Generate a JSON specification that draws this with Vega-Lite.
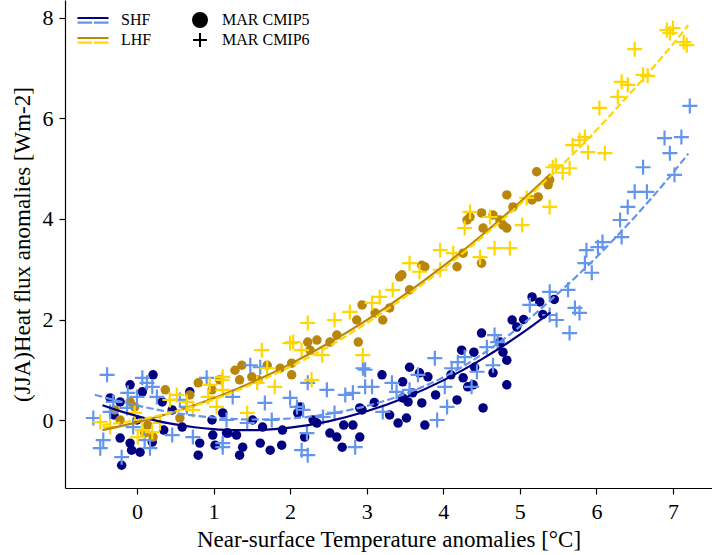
{
  "$schema": "https://vega.github.io/schema/vega-lite/v6.json",
  "width": 647,
  "height": 488,
  "autosize": {"type": "none"},
  "padding": {"left": 65, "top": 0, "right": 0, "bottom": 67},
  "background": "white",
  "config": {
    "view": {"stroke": null},
    "font": "Liberation Serif",
    "axis": {"domainColor": "black", "domainWidth": 1.2, "tickColor": "black", "tickWidth": 1.2, "tickSize": 6, "labelColor": "black", "titleColor": "black", "labelFont": "Liberation Serif", "titleFont": "Liberation Serif", "labelFontSize": 22, "titleFontSize": 23, "titleFontWeight": "normal", "grid": false},
    "legend": {"labelFont": "Liberation Serif", "labelFontSize": 16, "labelColor": "black", "padding": 0}
  },
  "datasets": {
    "pts": [
      {"v":"SHF","m":"MAR CMIP5","t":5.16,"h":2.45},{"v":"SHF","m":"MAR CMIP5","t":5.26,"h":2.35},{"v":"SHF","m":"MAR CMIP5","t":4.90,"h":1.99},{"v":"SHF","m":"MAR CMIP5","t":4.96,"h":1.85},{"v":"SHF","m":"MAR CMIP5","t":4.50,"h":1.73},{"v":"SHF","m":"MAR CMIP5","t":4.74,"h":1.55},{"v":"SHF","m":"MAR CMIP5","t":4.78,"h":1.35},{"v":"SHF","m":"MAR CMIP5","t":4.24,"h":1.39},{"v":"SHF","m":"MAR CMIP5","t":4.83,"h":1.19},{"v":"SHF","m":"MAR CMIP5","t":4.41,"h":1.05},{"v":"SHF","m":"MAR CMIP5","t":4.65,"h":0.94},{"v":"SHF","m":"MAR CMIP5","t":4.83,"h":0.70},{"v":"SHF","m":"MAR CMIP5","t":4.26,"h":0.84},{"v":"SHF","m":"MAR CMIP5","t":4.39,"h":0.70},{"v":"SHF","m":"MAR CMIP5","t":4.32,"h":0.66},{"v":"SHF","m":"MAR CMIP5","t":3.56,"h":1.05},{"v":"SHF","m":"MAR CMIP5","t":3.69,"h":0.94},{"v":"SHF","m":"MAR CMIP5","t":3.80,"h":0.86},{"v":"SHF","m":"MAR CMIP5","t":3.20,"h":0.90},{"v":"SHF","m":"MAR CMIP5","t":3.47,"h":0.76},{"v":"SHF","m":"MAR CMIP5","t":3.60,"h":0.54},{"v":"SHF","m":"MAR CMIP5","t":3.47,"h":0.44},{"v":"SHF","m":"MAR CMIP5","t":3.54,"h":0.36},{"v":"SHF","m":"MAR CMIP5","t":3.72,"h":0.34},{"v":"SHF","m":"MAR CMIP5","t":4.18,"h":0.40},{"v":"SHF","m":"MAR CMIP5","t":4.52,"h":0.24},{"v":"SHF","m":"MAR CMIP5","t":2.94,"h":0.20},{"v":"SHF","m":"MAR CMIP5","t":3.52,"h":0.04},{"v":"SHF","m":"MAR CMIP5","t":3.41,"h":-0.06},{"v":"SHF","m":"MAR CMIP5","t":3.76,"h":-0.10},{"v":"SHF","m":"MAR CMIP5","t":2.13,"h":0.26},{"v":"SHF","m":"MAR CMIP5","t":2.10,"h":0.14},{"v":"SHF","m":"MAR CMIP5","t":2.91,"h":0.24},{"v":"SHF","m":"MAR CMIP5","t":2.82,"h":-0.10},{"v":"SHF","m":"MAR CMIP5","t":2.52,"h":-0.26},{"v":"SHF","m":"MAR CMIP5","t":2.61,"h":-0.34},{"v":"SHF","m":"MAR CMIP5","t":2.35,"h":-0.06},{"v":"SHF","m":"MAR CMIP5","t":2.19,"h":-0.34},{"v":"SHF","m":"MAR CMIP5","t":1.89,"h":-0.50},{"v":"SHF","m":"MAR CMIP5","t":1.74,"h":-0.60},{"v":"SHF","m":"MAR CMIP5","t":1.61,"h":-0.46},{"v":"SHF","m":"MAR CMIP5","t":1.38,"h":-0.54},{"v":"SHF","m":"MAR CMIP5","t":1.34,"h":-0.70},{"v":"SHF","m":"MAR CMIP5","t":1.64,"h":-0.14},{"v":"SHF","m":"MAR CMIP5","t":1.17,"h":-0.26},{"v":"SHF","m":"MAR CMIP5","t":2.68,"h":-0.54},{"v":"SHF","m":"MAR CMIP5","t":2.91,"h":-0.34},{"v":"SHF","m":"MAR CMIP5","t":1.51,"h":0.00},{"v":"SHF","m":"MAR CMIP5","t":0.21,"h":0.90},{"v":"SHF","m":"MAR CMIP5","t":-0.09,"h":0.70},{"v":"SHF","m":"MAR CMIP5","t":0.07,"h":0.56},{"v":"SHF","m":"MAR CMIP5","t":-0.35,"h":0.44},{"v":"SHF","m":"MAR CMIP5","t":-0.22,"h":0.36},{"v":"SHF","m":"MAR CMIP5","t":0.33,"h":0.36},{"v":"SHF","m":"MAR CMIP5","t":-0.22,"h":-0.36},{"v":"SHF","m":"MAR CMIP5","t":-0.09,"h":-0.46},{"v":"SHF","m":"MAR CMIP5","t":0.20,"h":-0.44},{"v":"SHF","m":"MAR CMIP5","t":0.04,"h":-0.64},{"v":"SHF","m":"MAR CMIP5","t":-0.07,"h":-0.60},{"v":"SHF","m":"MAR CMIP5","t":-0.20,"h":-0.90},{"v":"SHF","m":"MAR CMIP5","t":0.82,"h":-0.46},{"v":"SHF","m":"MAR CMIP5","t":0.80,"h":-0.70},{"v":"SHF","m":"MAR CMIP5","t":1.02,"h":-0.50},{"v":"SHF","m":"MAR CMIP5","t":0.99,"h":-0.30},{"v":"SHF","m":"MAR CMIP5","t":0.59,"h":-0.14},{"v":"SHF","m":"MAR CMIP5","t":0.69,"h":0.56},{"v":"SHF","m":"MAR CMIP5","t":0.46,"h":0.20},{"v":"SHF","m":"MAR CMIP5","t":0.98,"h":0.00},{"v":"SHF","m":"MAR CMIP5","t":1.12,"h":0.14},{"v":"SHF","m":"MAR CMIP5","t":1.19,"h":-0.26},{"v":"SHF","m":"MAR CMIP5","t":-0.30,"h":0.10},{"v":"SHF","m":"MAR CMIP5","t":0.00,"h":0.00},{"v":"SHF","m":"MAR CMIP5","t":0.35,"h":-0.20},{"v":"SHF","m":"MAR CMIP5","t":1.30,"h":-0.30},{"v":"SHF","m":"MAR CMIP5","t":1.90,"h":-0.20},{"v":"SHF","m":"MAR CMIP5","t":2.30,"h":0.00},{"v":"SHF","m":"MAR CMIP5","t":2.70,"h":-0.10},{"v":"SHF","m":"MAR CMIP5","t":3.10,"h":0.35},{"v":"SHF","m":"MAR CMIP5","t":3.30,"h":0.10},{"v":"SHF","m":"MAR CMIP5","t":3.90,"h":0.50},{"v":"SHF","m":"MAR CMIP5","t":4.10,"h":0.90},{"v":"SHF","m":"MAR CMIP5","t":4.40,"h":1.35},{"v":"SHF","m":"MAR CMIP5","t":5.05,"h":2.00},{"v":"SHF","m":"MAR CMIP5","t":5.30,"h":2.10},{"v":"SHF","m":"MAR CMIP5","t":5.45,"h":2.40},
      {"v":"LHF","m":"MAR CMIP5","t":5.22,"h":4.94},{"v":"LHF","m":"MAR CMIP5","t":5.37,"h":4.68},{"v":"LHF","m":"MAR CMIP5","t":5.24,"h":4.44},{"v":"LHF","m":"MAR CMIP5","t":5.16,"h":4.38},{"v":"LHF","m":"MAR CMIP5","t":4.83,"h":4.48},{"v":"LHF","m":"MAR CMIP5","t":4.91,"h":4.24},{"v":"LHF","m":"MAR CMIP5","t":4.50,"h":4.12},{"v":"LHF","m":"MAR CMIP5","t":4.35,"h":4.04},{"v":"LHF","m":"MAR CMIP5","t":4.31,"h":3.98},{"v":"LHF","m":"MAR CMIP5","t":4.65,"h":4.08},{"v":"LHF","m":"MAR CMIP5","t":4.52,"h":3.82},{"v":"LHF","m":"MAR CMIP5","t":4.78,"h":3.88},{"v":"LHF","m":"MAR CMIP5","t":4.83,"h":3.82},{"v":"LHF","m":"MAR CMIP5","t":4.74,"h":3.98},{"v":"LHF","m":"MAR CMIP5","t":4.26,"h":3.32},{"v":"LHF","m":"MAR CMIP5","t":4.50,"h":3.12},{"v":"LHF","m":"MAR CMIP5","t":4.18,"h":3.05},{"v":"LHF","m":"MAR CMIP5","t":3.76,"h":3.05},{"v":"LHF","m":"MAR CMIP5","t":3.72,"h":3.08},{"v":"LHF","m":"MAR CMIP5","t":3.46,"h":2.89},{"v":"LHF","m":"MAR CMIP5","t":2.94,"h":2.29},{"v":"LHF","m":"MAR CMIP5","t":3.43,"h":2.85},{"v":"LHF","m":"MAR CMIP5","t":3.21,"h":1.99},{"v":"LHF","m":"MAR CMIP5","t":2.87,"h":1.99},{"v":"LHF","m":"MAR CMIP5","t":2.89,"h":1.55},{"v":"LHF","m":"MAR CMIP5","t":2.61,"h":1.69},{"v":"LHF","m":"MAR CMIP5","t":2.52,"h":1.55},{"v":"LHF","m":"MAR CMIP5","t":2.35,"h":1.59},{"v":"LHF","m":"MAR CMIP5","t":2.23,"h":1.55},{"v":"LHF","m":"MAR CMIP5","t":2.26,"h":1.39},{"v":"LHF","m":"MAR CMIP5","t":2.02,"h":1.13},{"v":"LHF","m":"MAR CMIP5","t":1.87,"h":1.03},{"v":"LHF","m":"MAR CMIP5","t":1.70,"h":1.09},{"v":"LHF","m":"MAR CMIP5","t":1.37,"h":1.09},{"v":"LHF","m":"MAR CMIP5","t":1.28,"h":0.99},{"v":"LHF","m":"MAR CMIP5","t":1.34,"h":0.80},{"v":"LHF","m":"MAR CMIP5","t":1.50,"h":0.86},{"v":"LHF","m":"MAR CMIP5","t":1.58,"h":0.80},{"v":"LHF","m":"MAR CMIP5","t":2.02,"h":0.90},{"v":"LHF","m":"MAR CMIP5","t":1.08,"h":0.80},{"v":"LHF","m":"MAR CMIP5","t":-0.09,"h":0.36},{"v":"LHF","m":"MAR CMIP5","t":-0.03,"h":0.26},{"v":"LHF","m":"MAR CMIP5","t":0.14,"h":-0.10},{"v":"LHF","m":"MAR CMIP5","t":0.21,"h":-0.34},{"v":"LHF","m":"MAR CMIP5","t":0.80,"h":0.74},{"v":"LHF","m":"MAR CMIP5","t":0.98,"h":0.60},{"v":"LHF","m":"MAR CMIP5","t":0.56,"h":0.04},{"v":"LHF","m":"MAR CMIP5","t":0.10,"h":-0.26},{"v":"LHF","m":"MAR CMIP5","t":3.56,"h":2.59},{"v":"LHF","m":"MAR CMIP5","t":3.30,"h":2.23},{"v":"LHF","m":"MAR CMIP5","t":3.11,"h":2.13},{"v":"LHF","m":"MAR CMIP5","t":5.39,"h":4.78},{"v":"LHF","m":"MAR CMIP5","t":0.37,"h":0.60},{"v":"LHF","m":"MAR CMIP5","t":0.69,"h":0.50},{"v":"LHF","m":"MAR CMIP5","t":-0.22,"h":0.00},{"v":"LHF","m":"MAR CMIP5","t":-0.29,"h":0.20},
      {"v":"SHF","m":"MAR CMIP6","t":7.22,"h":6.25},{"v":"SHF","m":"MAR CMIP6","t":6.89,"h":5.61},{"v":"SHF","m":"MAR CMIP6","t":7.11,"h":5.63},{"v":"SHF","m":"MAR CMIP6","t":6.96,"h":5.31},{"v":"SHF","m":"MAR CMIP6","t":7.02,"h":4.88},{"v":"SHF","m":"MAR CMIP6","t":6.61,"h":5.03},{"v":"SHF","m":"MAR CMIP6","t":6.50,"h":4.54},{"v":"SHF","m":"MAR CMIP6","t":6.66,"h":4.54},{"v":"SHF","m":"MAR CMIP6","t":6.41,"h":4.24},{"v":"SHF","m":"MAR CMIP6","t":6.31,"h":3.98},{"v":"SHF","m":"MAR CMIP6","t":6.33,"h":3.64},{"v":"SHF","m":"MAR CMIP6","t":6.08,"h":3.54},{"v":"SHF","m":"MAR CMIP6","t":6.02,"h":3.44},{"v":"SHF","m":"MAR CMIP6","t":5.87,"h":3.38},{"v":"SHF","m":"MAR CMIP6","t":5.85,"h":3.12},{"v":"SHF","m":"MAR CMIP6","t":5.94,"h":2.93},{"v":"SHF","m":"MAR CMIP6","t":5.63,"h":2.59},{"v":"SHF","m":"MAR CMIP6","t":5.72,"h":2.23},{"v":"SHF","m":"MAR CMIP6","t":5.78,"h":2.13},{"v":"SHF","m":"MAR CMIP6","t":5.65,"h":1.73},{"v":"SHF","m":"MAR CMIP6","t":5.39,"h":2.55},{"v":"SHF","m":"MAR CMIP6","t":5.13,"h":2.29},{"v":"SHF","m":"MAR CMIP6","t":5.39,"h":2.09},{"v":"SHF","m":"MAR CMIP6","t":5.48,"h":1.99},{"v":"SHF","m":"MAR CMIP6","t":4.67,"h":1.69},{"v":"SHF","m":"MAR CMIP6","t":4.71,"h":1.55},{"v":"SHF","m":"MAR CMIP6","t":4.57,"h":1.45},{"v":"SHF","m":"MAR CMIP6","t":4.28,"h":1.25},{"v":"SHF","m":"MAR CMIP6","t":4.19,"h":1.15},{"v":"SHF","m":"MAR CMIP6","t":3.89,"h":1.23},{"v":"SHF","m":"MAR CMIP6","t":4.11,"h":1.03},{"v":"SHF","m":"MAR CMIP6","t":4.44,"h":0.96},{"v":"SHF","m":"MAR CMIP6","t":4.65,"h":1.09},{"v":"SHF","m":"MAR CMIP6","t":3.67,"h":0.90},{"v":"SHF","m":"MAR CMIP6","t":4.37,"h":0.66},{"v":"SHF","m":"MAR CMIP6","t":4.02,"h":0.66},{"v":"SHF","m":"MAR CMIP6","t":4.05,"h":0.26},{"v":"SHF","m":"MAR CMIP6","t":3.92,"h":0.00},{"v":"SHF","m":"MAR CMIP6","t":3.33,"h":0.74},{"v":"SHF","m":"MAR CMIP6","t":3.39,"h":0.56},{"v":"SHF","m":"MAR CMIP6","t":3.07,"h":0.66},{"v":"SHF","m":"MAR CMIP6","t":2.98,"h":1.00},{"v":"SHF","m":"MAR CMIP6","t":3.56,"h":0.60},{"v":"SHF","m":"MAR CMIP6","t":3.21,"h":0.16},{"v":"SHF","m":"MAR CMIP6","t":2.95,"h":1.03},{"v":"SHF","m":"MAR CMIP6","t":2.23,"h":0.74},{"v":"SHF","m":"MAR CMIP6","t":2.48,"h":0.60},{"v":"SHF","m":"MAR CMIP6","t":2.82,"h":0.54},{"v":"SHF","m":"MAR CMIP6","t":2.72,"h":0.50},{"v":"SHF","m":"MAR CMIP6","t":2.98,"h":0.66},{"v":"SHF","m":"MAR CMIP6","t":1.61,"h":1.05},{"v":"SHF","m":"MAR CMIP6","t":1.48,"h":1.09},{"v":"SHF","m":"MAR CMIP6","t":1.25,"h":0.46},{"v":"SHF","m":"MAR CMIP6","t":1.67,"h":0.34},{"v":"SHF","m":"MAR CMIP6","t":2.00,"h":0.44},{"v":"SHF","m":"MAR CMIP6","t":2.09,"h":0.26},{"v":"SHF","m":"MAR CMIP6","t":2.17,"h":0.20},{"v":"SHF","m":"MAR CMIP6","t":1.76,"h":0.00},{"v":"SHF","m":"MAR CMIP6","t":1.44,"h":-0.06},{"v":"SHF","m":"MAR CMIP6","t":1.17,"h":0.00},{"v":"SHF","m":"MAR CMIP6","t":2.58,"h":0.14},{"v":"SHF","m":"MAR CMIP6","t":2.43,"h":0.06},{"v":"SHF","m":"MAR CMIP6","t":2.22,"h":-0.26},{"v":"SHF","m":"MAR CMIP6","t":2.15,"h":-0.60},{"v":"SHF","m":"MAR CMIP6","t":2.23,"h":-0.70},{"v":"SHF","m":"MAR CMIP6","t":2.85,"h":-0.54},{"v":"SHF","m":"MAR CMIP6","t":1.12,"h":-0.46},{"v":"SHF","m":"MAR CMIP6","t":-0.39,"h":0.90},{"v":"SHF","m":"MAR CMIP6","t":0.07,"h":0.84},{"v":"SHF","m":"MAR CMIP6","t":0.13,"h":0.74},{"v":"SHF","m":"MAR CMIP6","t":0.20,"h":0.66},{"v":"SHF","m":"MAR CMIP6","t":-0.12,"h":0.54},{"v":"SHF","m":"MAR CMIP6","t":-0.31,"h":0.36},{"v":"SHF","m":"MAR CMIP6","t":-0.57,"h":0.04},{"v":"SHF","m":"MAR CMIP6","t":-0.35,"h":0.16},{"v":"SHF","m":"MAR CMIP6","t":-0.13,"h":0.24},{"v":"SHF","m":"MAR CMIP6","t":-0.05,"h":-0.14},{"v":"SHF","m":"MAR CMIP6","t":-0.44,"h":-0.40},{"v":"SHF","m":"MAR CMIP6","t":-0.48,"h":-0.56},{"v":"SHF","m":"MAR CMIP6","t":-0.20,"h":-0.74},{"v":"SHF","m":"MAR CMIP6","t":0.10,"h":-0.40},{"v":"SHF","m":"MAR CMIP6","t":0.17,"h":-0.56},{"v":"SHF","m":"MAR CMIP6","t":0.46,"h":-0.30},{"v":"SHF","m":"MAR CMIP6","t":0.73,"h":-0.34},{"v":"SHF","m":"MAR CMIP6","t":0.91,"h":0.84},{"v":"SHF","m":"MAR CMIP6","t":0.56,"h":0.40},{"v":"SHF","m":"MAR CMIP6","t":0.65,"h":0.26},{"v":"SHF","m":"MAR CMIP6","t":1.12,"h":-0.54},{"v":"SHF","m":"MAR CMIP6","t":0.26,"h":0.46},{"v":"SHF","m":"MAR CMIP6","t":0.00,"h":0.46},
      {"v":"LHF","m":"MAR CMIP6","t":6.92,"h":7.76},{"v":"LHF","m":"MAR CMIP6","t":7.00,"h":7.80},{"v":"LHF","m":"MAR CMIP6","t":6.96,"h":7.70},{"v":"LHF","m":"MAR CMIP6","t":7.18,"h":7.46},{"v":"LHF","m":"MAR CMIP6","t":7.14,"h":7.52},{"v":"LHF","m":"MAR CMIP6","t":6.50,"h":7.38},{"v":"LHF","m":"MAR CMIP6","t":6.61,"h":6.87},{"v":"LHF","m":"MAR CMIP6","t":6.67,"h":6.85},{"v":"LHF","m":"MAR CMIP6","t":6.33,"h":6.73},{"v":"LHF","m":"MAR CMIP6","t":6.41,"h":6.67},{"v":"LHF","m":"MAR CMIP6","t":6.28,"h":6.43},{"v":"LHF","m":"MAR CMIP6","t":6.04,"h":6.21},{"v":"LHF","m":"MAR CMIP6","t":5.85,"h":5.63},{"v":"LHF","m":"MAR CMIP6","t":5.78,"h":5.57},{"v":"LHF","m":"MAR CMIP6","t":5.69,"h":5.47},{"v":"LHF","m":"MAR CMIP6","t":5.89,"h":5.33},{"v":"LHF","m":"MAR CMIP6","t":6.11,"h":5.31},{"v":"LHF","m":"MAR CMIP6","t":5.43,"h":5.03},{"v":"LHF","m":"MAR CMIP6","t":5.47,"h":5.07},{"v":"LHF","m":"MAR CMIP6","t":5.65,"h":5.01},{"v":"LHF","m":"MAR CMIP6","t":5.39,"h":4.24},{"v":"LHF","m":"MAR CMIP6","t":5.56,"h":4.92},{"v":"LHF","m":"MAR CMIP6","t":5.09,"h":4.42},{"v":"LHF","m":"MAR CMIP6","t":5.03,"h":3.88},{"v":"LHF","m":"MAR CMIP6","t":4.67,"h":3.42},{"v":"LHF","m":"MAR CMIP6","t":4.87,"h":3.42},{"v":"LHF","m":"MAR CMIP6","t":4.48,"h":3.24},{"v":"LHF","m":"MAR CMIP6","t":4.13,"h":3.32},{"v":"LHF","m":"MAR CMIP6","t":3.56,"h":3.12},{"v":"LHF","m":"MAR CMIP6","t":3.96,"h":2.99},{"v":"LHF","m":"MAR CMIP6","t":4.35,"h":4.14},{"v":"LHF","m":"MAR CMIP6","t":4.28,"h":3.82},{"v":"LHF","m":"MAR CMIP6","t":4.61,"h":4.04},{"v":"LHF","m":"MAR CMIP6","t":3.34,"h":2.59},{"v":"LHF","m":"MAR CMIP6","t":3.07,"h":2.33},{"v":"LHF","m":"MAR CMIP6","t":2.78,"h":2.15},{"v":"LHF","m":"MAR CMIP6","t":2.23,"h":1.93},{"v":"LHF","m":"MAR CMIP6","t":2.04,"h":1.55},{"v":"LHF","m":"MAR CMIP6","t":2.15,"h":1.39},{"v":"LHF","m":"MAR CMIP6","t":2.42,"h":1.29},{"v":"LHF","m":"MAR CMIP6","t":2.95,"h":1.29},{"v":"LHF","m":"MAR CMIP6","t":1.70,"h":1.03},{"v":"LHF","m":"MAR CMIP6","t":1.57,"h":0.74},{"v":"LHF","m":"MAR CMIP6","t":1.80,"h":0.66},{"v":"LHF","m":"MAR CMIP6","t":2.28,"h":0.80},{"v":"LHF","m":"MAR CMIP6","t":1.12,"h":0.86},{"v":"LHF","m":"MAR CMIP6","t":1.44,"h":0.14},{"v":"LHF","m":"MAR CMIP6","t":-0.48,"h":-0.04},{"v":"LHF","m":"MAR CMIP6","t":-0.35,"h":-0.14},{"v":"LHF","m":"MAR CMIP6","t":-0.03,"h":0.14},{"v":"LHF","m":"MAR CMIP6","t":0.07,"h":-0.20},{"v":"LHF","m":"MAR CMIP6","t":0.01,"h":-0.34},{"v":"LHF","m":"MAR CMIP6","t":0.20,"h":-0.24},{"v":"LHF","m":"MAR CMIP6","t":0.30,"h":-0.06},{"v":"LHF","m":"MAR CMIP6","t":0.43,"h":0.40},{"v":"LHF","m":"MAR CMIP6","t":0.52,"h":0.50},{"v":"LHF","m":"MAR CMIP6","t":0.65,"h":0.36},{"v":"LHF","m":"MAR CMIP6","t":1.11,"h":0.80},{"v":"LHF","m":"MAR CMIP6","t":0.93,"h":0.46},{"v":"LHF","m":"MAR CMIP6","t":1.04,"h":0.26},{"v":"LHF","m":"MAR CMIP6","t":0.73,"h":0.20},{"v":"LHF","m":"MAR CMIP6","t":1.12,"h":0.60},{"v":"LHF","m":"MAR CMIP6","t":2.00,"h":1.53},{"v":"LHF","m":"MAR CMIP6","t":0.95,"h":0.70},{"v":"LHF","m":"MAR CMIP6","t":3.69,"h":2.95},{"v":"LHF","m":"MAR CMIP6","t":3.17,"h":2.45},{"v":"LHF","m":"MAR CMIP6","t":3.96,"h":3.38},{"v":"LHF","m":"MAR CMIP6","t":2.58,"h":1.99},{"v":"LHF","m":"MAR CMIP6","t":1.63,"h":1.39}
    ],
    "fits": [
      {"v":"SHF","m":"MAR CMIP5","t":-0.45,"h":0.293},{"v":"SHF","m":"MAR CMIP5","t":-0.2,"h":0.167},{"v":"SHF","m":"MAR CMIP5","t":0,"h":0.08},{"v":"SHF","m":"MAR CMIP5","t":0.25,"h":-0.013},{"v":"SHF","m":"MAR CMIP5","t":0.5,"h":-0.087},{"v":"SHF","m":"MAR CMIP5","t":0.75,"h":-0.144},{"v":"SHF","m":"MAR CMIP5","t":1,"h":-0.182},{"v":"SHF","m":"MAR CMIP5","t":1.25,"h":-0.201},{"v":"SHF","m":"MAR CMIP5","t":1.5,"h":-0.203},{"v":"SHF","m":"MAR CMIP5","t":1.75,"h":-0.186},{"v":"SHF","m":"MAR CMIP5","t":2,"h":-0.151},{"v":"SHF","m":"MAR CMIP5","t":2.5,"h":-0.026},{"v":"SHF","m":"MAR CMIP5","t":3,"h":0.173},{"v":"SHF","m":"MAR CMIP5","t":3.5,"h":0.444},{"v":"SHF","m":"MAR CMIP5","t":4,"h":0.789},{"v":"SHF","m":"MAR CMIP5","t":4.5,"h":1.207},{"v":"SHF","m":"MAR CMIP5","t":5,"h":1.698},{"v":"SHF","m":"MAR CMIP5","t":5.4,"h":2.143},
      {"v":"LHF","m":"MAR CMIP5","t":-0.45,"h":-0.2},{"v":"LHF","m":"MAR CMIP5","t":0,"h":-0.048},{"v":"LHF","m":"MAR CMIP5","t":0.5,"h":0.168},{"v":"LHF","m":"MAR CMIP5","t":1,"h":0.434},{"v":"LHF","m":"MAR CMIP5","t":1.5,"h":0.748},{"v":"LHF","m":"MAR CMIP5","t":2,"h":1.112},{"v":"LHF","m":"MAR CMIP5","t":2.5,"h":1.526},{"v":"LHF","m":"MAR CMIP5","t":3,"h":1.988},{"v":"LHF","m":"MAR CMIP5","t":3.5,"h":2.5},{"v":"LHF","m":"MAR CMIP5","t":4,"h":3.062},{"v":"LHF","m":"MAR CMIP5","t":4.5,"h":3.672},{"v":"LHF","m":"MAR CMIP5","t":5,"h":4.332},{"v":"LHF","m":"MAR CMIP5","t":5.4,"h":4.895},
      {"v":"SHF","m":"MAR CMIP6","t":-0.55,"h":0.5},{"v":"SHF","m":"MAR CMIP6","t":-0.25,"h":0.38},{"v":"SHF","m":"MAR CMIP6","t":0,"h":0.29},{"v":"SHF","m":"MAR CMIP6","t":0.5,"h":0.14},{"v":"SHF","m":"MAR CMIP6","t":1,"h":0.05},{"v":"SHF","m":"MAR CMIP6","t":1.5,"h":0.01},{"v":"SHF","m":"MAR CMIP6","t":2,"h":0.03},{"v":"SHF","m":"MAR CMIP6","t":2.5,"h":0.12},{"v":"SHF","m":"MAR CMIP6","t":3,"h":0.28},{"v":"SHF","m":"MAR CMIP6","t":3.5,"h":0.52},{"v":"SHF","m":"MAR CMIP6","t":4,"h":0.85},{"v":"SHF","m":"MAR CMIP6","t":4.5,"h":1.3},{"v":"SHF","m":"MAR CMIP6","t":5,"h":1.86},{"v":"SHF","m":"MAR CMIP6","t":5.5,"h":2.52},{"v":"SHF","m":"MAR CMIP6","t":6,"h":3.24},{"v":"SHF","m":"MAR CMIP6","t":6.5,"h":4.04},{"v":"SHF","m":"MAR CMIP6","t":7,"h":4.92},{"v":"SHF","m":"MAR CMIP6","t":7.2,"h":5.3},
      {"v":"LHF","m":"MAR CMIP6","t":-0.45,"h":-0.1},{"v":"LHF","m":"MAR CMIP6","t":0,"h":0.0},{"v":"LHF","m":"MAR CMIP6","t":0.5,"h":0.17},{"v":"LHF","m":"MAR CMIP6","t":1,"h":0.41},{"v":"LHF","m":"MAR CMIP6","t":1.5,"h":0.71},{"v":"LHF","m":"MAR CMIP6","t":2,"h":1.06},{"v":"LHF","m":"MAR CMIP6","t":2.5,"h":1.46},{"v":"LHF","m":"MAR CMIP6","t":3,"h":1.93},{"v":"LHF","m":"MAR CMIP6","t":3.5,"h":2.45},{"v":"LHF","m":"MAR CMIP6","t":4,"h":3.01},{"v":"LHF","m":"MAR CMIP6","t":4.5,"h":3.63},{"v":"LHF","m":"MAR CMIP6","t":5,"h":4.29},{"v":"LHF","m":"MAR CMIP6","t":5.5,"h":5.0},{"v":"LHF","m":"MAR CMIP6","t":6,"h":5.77},{"v":"LHF","m":"MAR CMIP6","t":6.5,"h":6.6},{"v":"LHF","m":"MAR CMIP6","t":7,"h":7.48},{"v":"LHF","m":"MAR CMIP6","t":7.2,"h":7.86}
    ]
  },
  "encoding": {
    "x": {"field": "t", "type": "quantitative", "scale": {"domain": [-0.94, 7.51], "nice": false, "zero": false}, "axis": {"title": "Near-surface Temperature anomalies [°C]", "values": [0,1,2,3,4,5,6,7], "labelPadding": 7, "titlePadding": 6}},
    "y": {"field": "h", "type": "quantitative", "scale": {"domain": [-1.353, 8.358], "nice": false, "zero": false}, "axis": {"title": "(JJA)Heat flux anomalies [Wm-2]", "values": [0,2,4,6,8], "labelPadding": 6, "titlePadding": 8}}
  },
  "layer": [
    {
      "data": {"name": "pts"},
      "transform": [{"filter": "datum.m == 'MAR CMIP5'"}],
      "mark": {"type": "point", "filled": true, "opacity": 1, "size": 90},
      "encoding": {
        "fill": {"field": "v", "type": "nominal", "scale": {"domain": ["SHF", "LHF"], "range": ["#000080", "#B8860B"]},
          "legend": {"title": null, "orient": "none", "legendX": 11, "legendY": 14, "symbolType": "M-1,-0.13H1", "symbolSize": 961, "symbolStrokeWidth": 2.2, "symbolOpacity": 1, "clipHeight": 12, "rowPadding": 4, "labelOffset": 11}},
        "shape": {"field": "m", "type": "nominal", "scale": {"domain": ["MAR CMIP5", "MAR CMIP6"], "range": ["circle", "M-1,0H1M0,-1V1"]},
          "legend": {"title": null, "orient": "none", "legendX": 127, "legendY": 12, "symbolSize": 196, "symbolStrokeWidth": 2, "symbolFillColor": "black", "symbolStrokeColor": "black", "clipHeight": 16, "rowPadding": 4, "labelOffset": 14,
            "encode": {"symbols": {"update": {"fill": {"value": "black"}, "stroke": {"value": "black"}, "opacity": {"value": 1}, "strokeWidth": {"value": 2}}}}}}
      }
    },
    {
      "data": {"name": "pts"},
      "transform": [{"filter": "datum.m == 'MAR CMIP6'"}],
      "mark": {"type": "point", "filled": false, "opacity": 1, "size": 225, "strokeWidth": 2.2},
      "encoding": {
        "color": {"field": "v", "type": "nominal", "scale": {"domain": ["LHF", "SHF"], "range": ["#FFD700", "#6495ED"]},
          "legend": {"title": null, "orient": "none", "legendX": 11, "legendY": 14, "values": ["SHF", "LHF"], "symbolType": "M-1,0.17H1", "symbolSize": 961, "symbolStrokeWidth": 2.2, "symbolDash": [14.5, 2], "symbolOpacity": 1, "clipHeight": 12, "rowPadding": 4, "labelOffset": 11, "labelOpacity": 0}},
        "shape": {"field": "m", "type": "nominal", "scale": {"domain": ["MAR CMIP5", "MAR CMIP6"], "range": ["circle", "M-1,0H1M0,-1V1"]},
          "legend": {"title": null, "orient": "none", "legendX": 127, "legendY": 12, "symbolSize": 196, "symbolStrokeWidth": 2, "symbolFillColor": "black", "symbolStrokeColor": "black", "clipHeight": 16, "rowPadding": 4, "labelOffset": 14,
            "encode": {"symbols": {"update": {"fill": {"value": "black"}, "stroke": {"value": "black"}, "opacity": {"value": 1}, "strokeWidth": {"value": 2}}}}}}
      }
    },
    {
      "data": {"name": "fits"},
      "transform": [{"filter": "datum.m == 'MAR CMIP5'"}],
      "mark": {"type": "line", "strokeWidth": 2.2, "interpolate": "monotone"},
      "encoding": {
        "stroke": {"field": "v", "type": "nominal", "scale": {"domain": ["SHF", "LHF"], "range": ["#000080", "#B8860B"]},
          "legend": {"title": null, "orient": "none", "legendX": 11, "legendY": 14, "symbolType": "M-1,-0.13H1", "symbolSize": 961, "symbolStrokeWidth": 2.2, "symbolOpacity": 1, "clipHeight": 12, "rowPadding": 4, "labelOffset": 11}}
      }
    },
    {
      "data": {"name": "fits"},
      "transform": [{"filter": "datum.m == 'MAR CMIP6'"}],
      "mark": {"type": "line", "strokeWidth": 2.2, "interpolate": "monotone", "strokeDash": [7.4, 3.2]},
      "encoding": {
        "color": {"field": "v", "type": "nominal", "scale": {"domain": ["LHF", "SHF"], "range": ["#FFD700", "#6495ED"]},
          "legend": {"title": null, "orient": "none", "legendX": 11, "legendY": 14, "values": ["SHF", "LHF"], "symbolType": "M-1,0.17H1", "symbolSize": 961, "symbolStrokeWidth": 2.2, "symbolDash": [14.5, 2], "symbolOpacity": 1, "clipHeight": 12, "rowPadding": 4, "labelOffset": 11, "labelOpacity": 0}}
      }
    }
  ]
}
